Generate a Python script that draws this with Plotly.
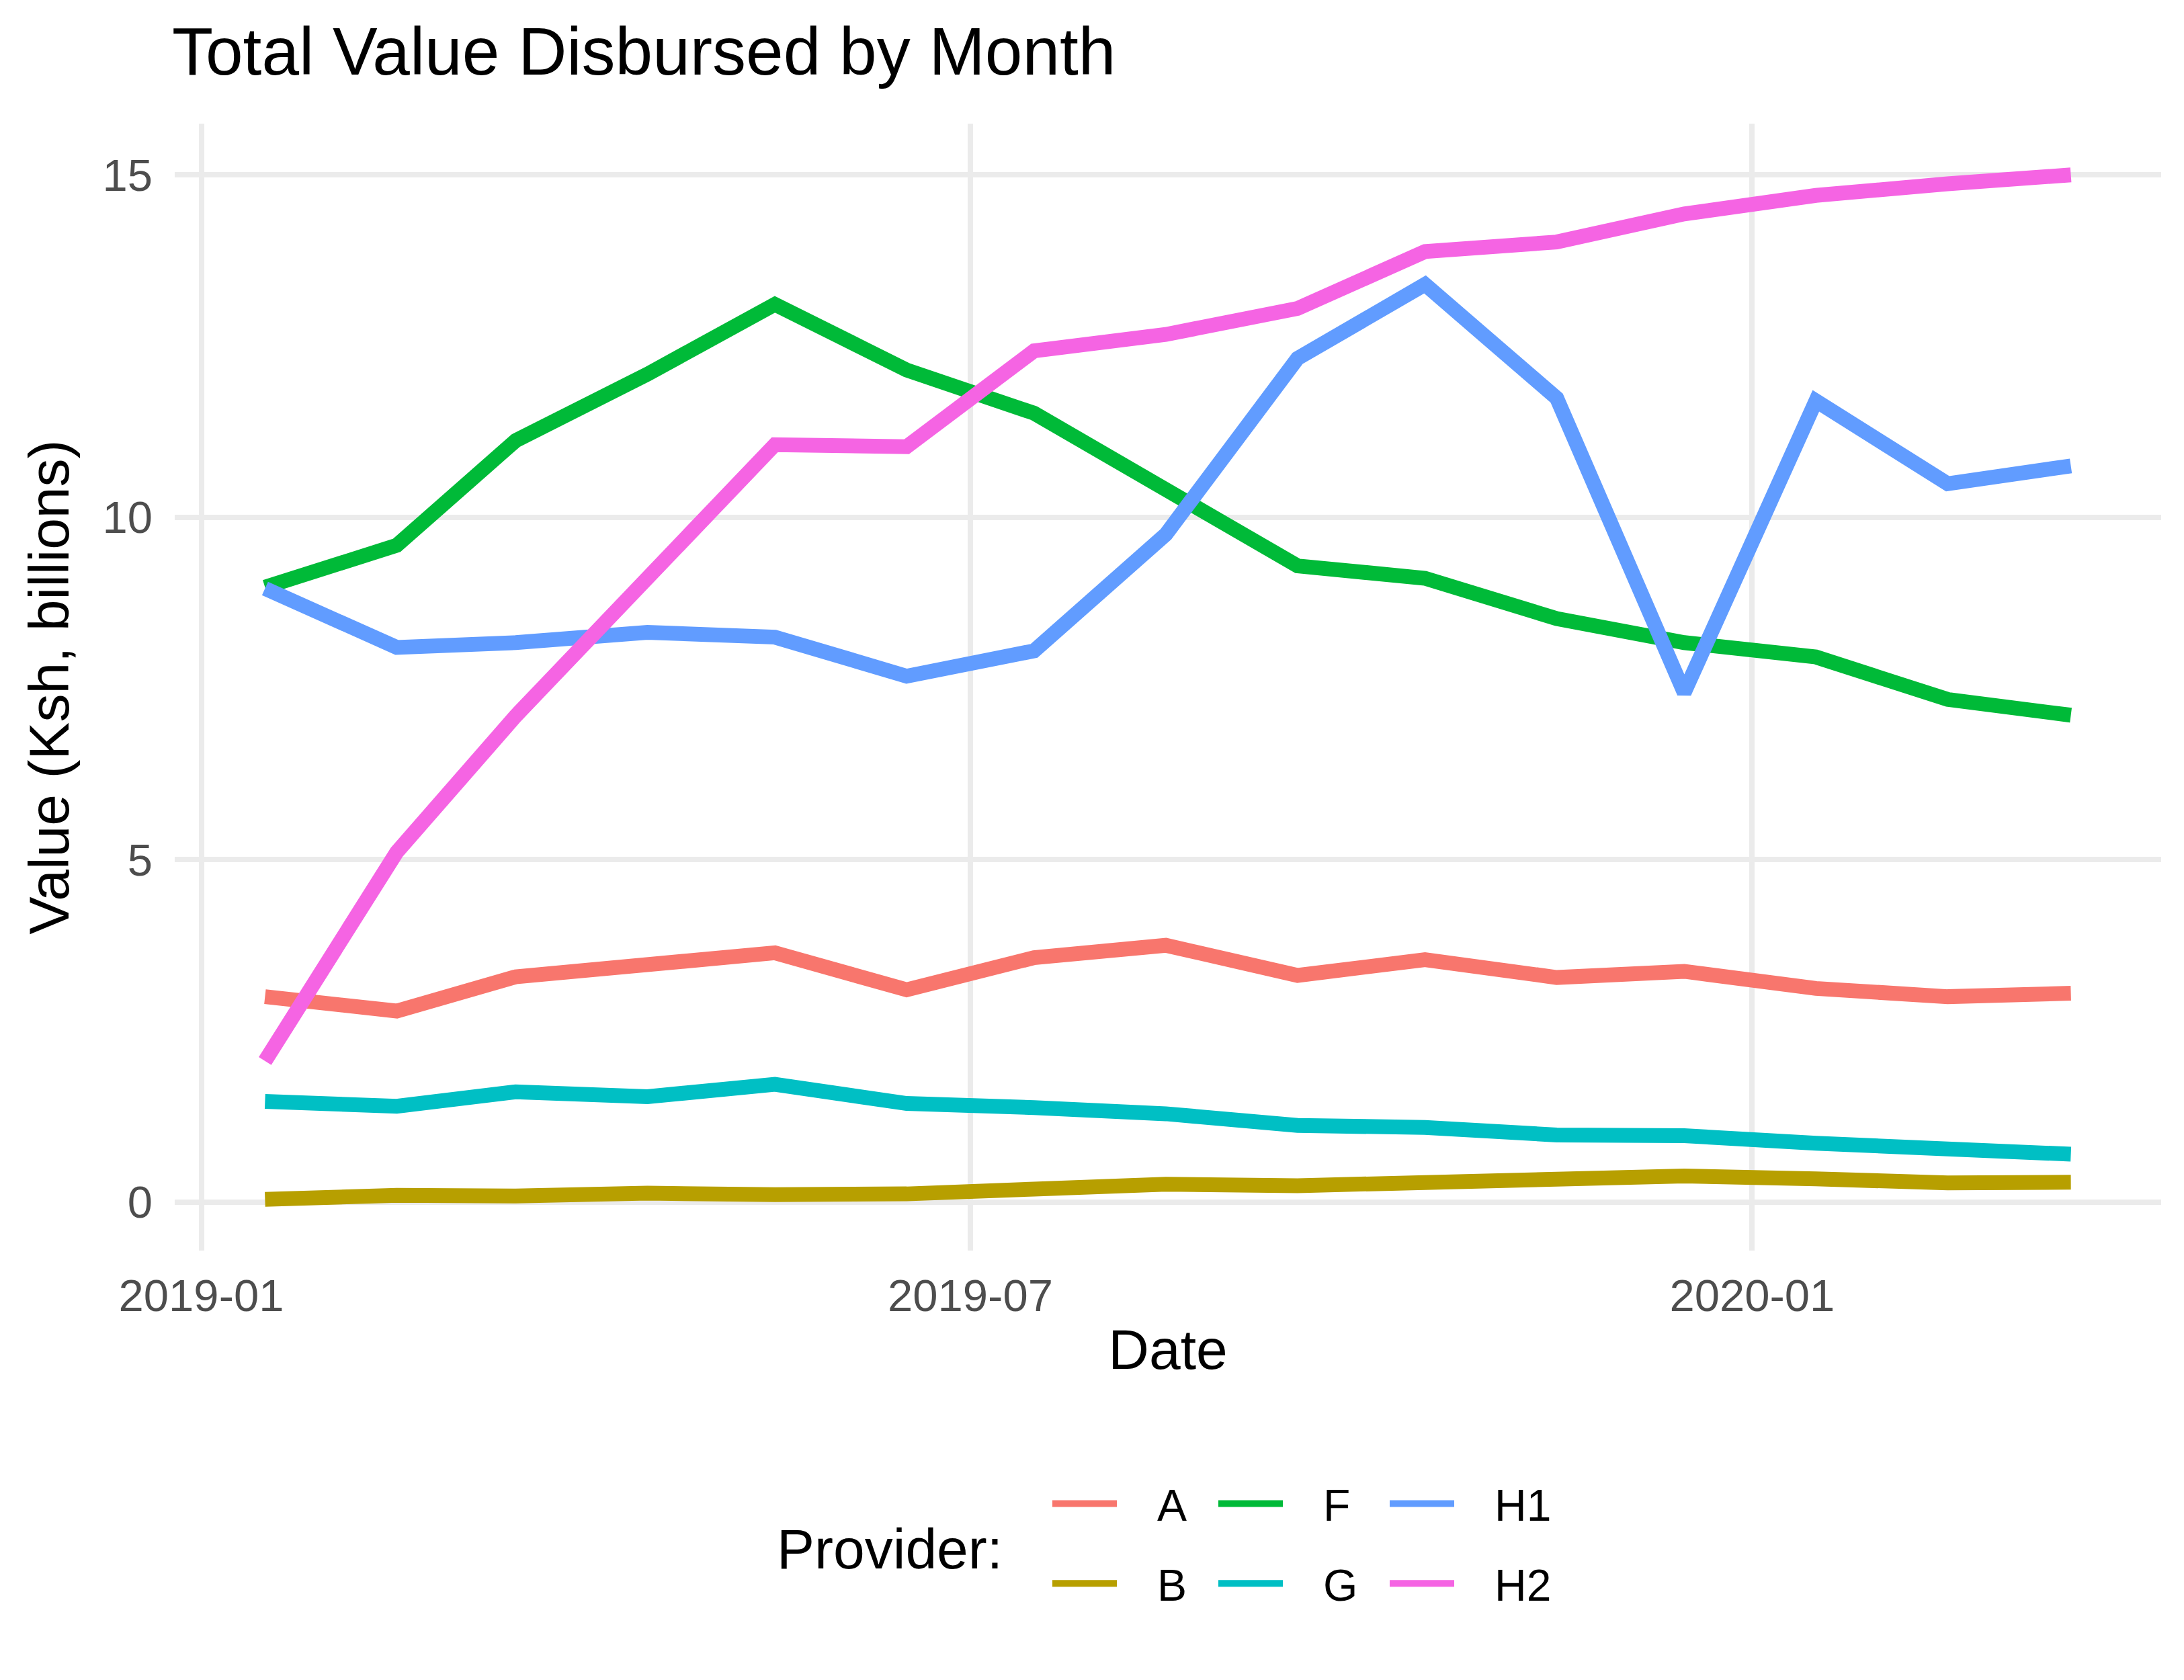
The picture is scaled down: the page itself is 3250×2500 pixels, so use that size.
import plotly.graph_objects as go
import pandas as pd

# ---- data ----
dates = pd.date_range("2019-01-01", periods=15, freq="MS") + pd.Timedelta(days=15)
providers = ["A", "B", "F", "G", "H1", "H2"]
colors = ["#F8766D", "#B79F00", "#00BA38", "#00BFC4", "#619CFF", "#F564E3"]

A = [3.00, 2.79, 3.29, 3.46, 3.64, 3.10, 3.57, 3.75, 3.31, 3.54, 3.28, 3.37, 3.12, 3.00, 3.05]
B = [0.04, 0.10, 0.09, 0.13, 0.11, 0.12, 0.19, 0.26, 0.24, 0.28, 0.29, 0.38, 0.34, 0.28, 0.29]
F = [8.98, 9.59, 11.12, 12.09, 13.11, 12.15, 11.52, 10.42, 9.29, 9.11, 8.52, 8.17, 7.96, 7.34, 7.11]
G = [1.47, 1.40, 1.61, 1.54, 1.72, 1.44, 1.38, 1.29, 1.12, 1.09, 0.98, 0.97, 0.86, 0.76, 0.70]
H1 = [8.96, 8.10, 8.17, 8.32, 8.25, 7.68, 8.05, 9.75, 12.32, 13.40, 11.74, 7.44, 11.70, 10.49, 10.75]
H2 = [2.06, 5.11, 7.10, 9.15, 11.06, 11.03, 12.43, 12.67, 13.05, 13.88, 14.02, 14.43, 14.70, 14.87, 15.00]
series = [A, B, F, G, H1, H2]

y_ticks = [0, 5, 10, 15]
x_ticks = ["2019-01-01", "2019-07-01", "2020-01-01"]
x_ticklabels = ["2019-01", "2019-07", "2020-01"]

FONT = "Liberation Sans"
W, H = 3250, 2500
ML, MR, MT, MB = 252, 42, 176, 647
PW, PH = W - ML - MR, H - MT - MB

fig = go.Figure()
legend_of = {"A": "legend", "B": "legend", "F": "legend2", "G": "legend2", "H1": "legend3", "H2": "legend3"}
NBSP = "\u00a0"
for name, vals, col in zip(providers, series, colors):
    fig.add_trace(go.Scatter(
        x=dates, y=vals, mode="lines", name=NBSP * 3 + name,
        line=dict(color=col, width=22),
        legend=legend_of[name], legendgroup=name,
    ))

allv = [v for s in series for v in s]
lo, hi = min(allv), max(allv)
ypad = 0.05 * (hi - lo)
span = dates[-1] - dates[0]
xr = [dates[0] - 0.05 * span, dates[-1] + 0.05 * span]

def px_x(p):
    return (p - ML) / PW

def px_y(p):
    return (H - MB - p) / PH

leg_common = dict(
    font=dict(family=FONT, size=66, color="black"),
    bgcolor="rgba(0,0,0,0)", orientation="v",
    xanchor="left", yanchor="top", tracegroupgap=30, itemwidth=96,
)
fig.update_layout(
    legend=dict(x=px_x(1553), y=px_y(2180), **leg_common),
    legend2=dict(x=px_x(1800), y=px_y(2180), **leg_common),
    legend3=dict(x=px_x(2055), y=px_y(2180), **leg_common),
)

fig.update_layout(
    width=W, height=H,
    margin=dict(l=ML, r=MR, t=MT, b=MB, autoexpand=False),
    paper_bgcolor="white", plot_bgcolor="white",
    font=dict(family=FONT, color="black"),
    title=dict(text="Total Value Disbursed by Month", font=dict(size=100, family=FONT, color="black"),
               x=(ML - 4) / W, xanchor="left", xref="container",
               y=1 - 68 / H, yanchor="middle", yref="container"),
    showlegend=True,
    annotations=[dict(text="Provider:", x=px_x(1146), y=px_y(2297), xref="paper", yref="paper",
                      xanchor="left", yanchor="middle", showarrow=False,
                      font=dict(family=FONT, size=84, color="black"))],
)
fig.update_xaxes(
    type="date", range=xr, tickvals=x_ticks, ticktext=x_ticklabels,
    showgrid=True, gridcolor="#EBEBEB", gridwidth=8, zeroline=False, showline=False,
    ticks="", ticklabelstandoff=22,
    tickfont=dict(family=FONT, size=67, color="#4D4D4D"),
    title=dict(text="Date", font=dict(family=FONT, size=84, color="black"), standoff=14),
)
fig.update_yaxes(
    range=[lo - ypad, hi + ypad], tickvals=y_ticks,
    showgrid=True, gridcolor="#EBEBEB", gridwidth=8, zeroline=False, showline=False,
    ticks="", ticklabelstandoff=32,
    tickfont=dict(family=FONT, size=67, color="#4D4D4D"),
    title=dict(text="Value (Ksh, billions)", font=dict(family=FONT, size=84, color="black"), standoff=22),
)
fig.write_html("out.html")
